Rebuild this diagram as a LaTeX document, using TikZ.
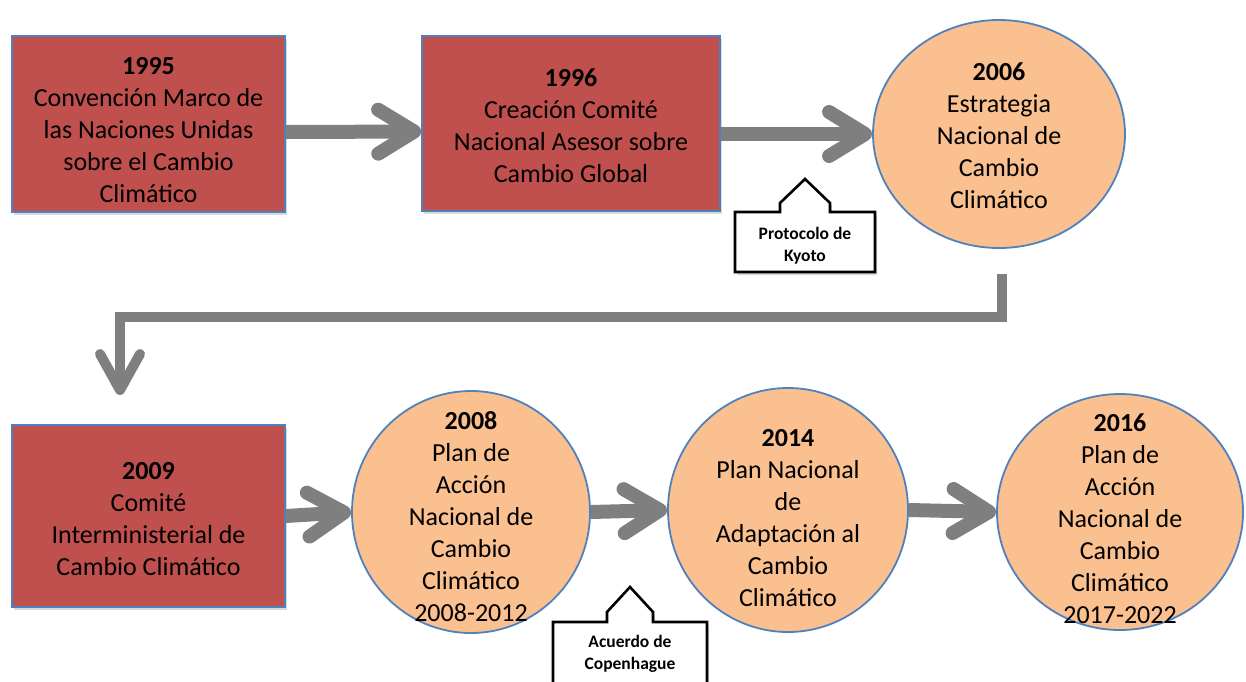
\documentclass[tikz,border=0pt]{standalone}
\usepackage{fontspec}
\setmainfont{Carlito}
\usetikzlibrary{arrows.meta,shapes.geometric,shadows}
\definecolor{boxred}{HTML}{C0504D}
\definecolor{edgeblue}{HTML}{4F81BD}
\definecolor{peach}{HTML}{FAC090}
\definecolor{arrowgray}{HTML}{7F7F7F}
\newcommand\toppad[1]{\rule{0pt}{#1}}
\begin{document}
\begin{tikzpicture}[x=1pt,y=-1pt,
  redbox/.style={rectangle, draw=edgeblue, line width=1.6pt, fill=boxred, align=center,
    font=\fontsize{26}{32}\selectfont, inner sep=0pt,
    drop shadow={opacity=0.3, shadow xshift=2pt, shadow yshift=-3pt}},
  peachcirc/.style={ellipse, draw=edgeblue, line width=1.8pt, fill=peach, align=center,
    font=\fontsize{26}{32}\selectfont, inner sep=-50pt},
  bigarrow/.style={draw=arrowgray, line width=14pt,
    -{Straight Barb[length=36pt, width=44pt, round]}},
  elbow/.style={draw=arrowgray, line width=10pt},
  elbowarrow/.style={draw=arrowgray, line width=10pt,
    -{Straight Barb[length=36pt, width=40pt, round]}},
  callout/.style={draw=black, line width=2.6pt, fill=white,
    drop shadow={opacity=0.3, shadow xshift=2pt, shadow yshift=-3pt}},
  callouttext/.style={align=center, font=\fontsize{17.5}{22}\selectfont\bfseries, inner sep=0pt}
]
\useasboundingbox (0,0) rectangle (1246,681);

% top row
\node[redbox, minimum width=273pt, minimum height=176pt] (b1995) at (148.5,124)
  {\toppad{30pt}\textbf{1995}\\Convención Marco de\\las Naciones Unidas\\sobre el Cambio\\Climático};
\node[redbox, minimum width=298pt, minimum height=175pt] (b1996) at (571,123.5)
  {\toppad{22pt}\textbf{1996}\\Creación Comité\\Nacional Asesor sobre\\Cambio Global};
\node[peachcirc, minimum width=252pt, minimum height=228pt] (e2006) at (999,134)
  {\toppad{22pt}\textbf{2006}\\Estrategia\\Nacional de\\Cambio\\Climático};

\draw[bigarrow] ([yshift=-8pt]b1995.east) -- ([yshift=-8pt]b1996.west);
\draw[bigarrow] (b1996.east |- e2006.west) -- (e2006.west);

% Kyoto callout
\draw[callout] (735,212) -- (780,212) -- (780,203) -- (805,179) -- (830,203) -- (830,212)
  -- (875,212) -- (875,272) -- (735,272) -- cycle;
\node[callouttext] (kyoto) at (805,246) {Protocolo de\\Kyoto};

% elbow connector
\coordinate (k1) at (1002,274);
\coordinate (k2) at (1002,317);
\coordinate (k3) at (120,317);
\coordinate (k4) at (120,395);
\draw[elbow] (k1) -- (k2) -- (k3);
\draw[elbowarrow] ([yshift=5pt]k3) -- (k4);

% bottom row
\node[redbox, minimum width=273pt, minimum height=182pt] (b2009) at (148.5,516)
  {\toppad{24pt}\textbf{2009}\\Comité\\Interministerial de\\Cambio Climático};
\node[peachcirc, minimum width=238pt, minimum height=242pt] (c2008) at (471,512)
  {\toppad{28pt}\textbf{2008}\\Plan de\\Acción\\Nacional de\\Cambio\\Climático\\2008-2012};
\node[peachcirc, minimum width=240pt, minimum height=244pt] (c2014) at (788,510)
  {\toppad{34pt}\textbf{2014}\\Plan Nacional\\de\\Adaptación al\\Cambio\\Climático};
\node[peachcirc, minimum width=246pt, minimum height=236pt] (c2016) at (1120,512)
  {\toppad{32pt}\textbf{2016}\\Plan de\\Acción\\Nacional de\\Cambio\\Climático\\2017-2022};

\draw[bigarrow] (b2009.east) -- (c2008.west);
\draw[bigarrow] (c2008.east) -- (c2014.west);
\draw[bigarrow] (c2014.east) -- (c2016.west);

% Copenhague callout
\draw[callout] (553,622) -- (607,622) -- (607,612) -- (630,587) -- (653,612) -- (653,622)
  -- (707,622) -- (707,700) -- (553,700) -- cycle;
\node[callouttext] (copen) at (630,654) {Acuerdo de\\Copenhague};
\end{tikzpicture}
\end{document}
